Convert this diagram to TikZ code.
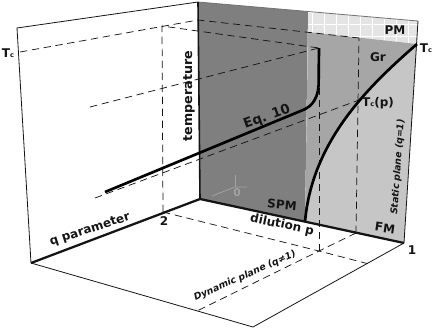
\documentclass[tikz,border=0pt]{standalone}
\usepackage{fontspec}
\setmainfont{DejaVu Sans}
\usetikzlibrary{calc}
\definecolor{ink}{HTML}{141414}
\definecolor{panel}{HTML}{7F7F7F}
\definecolor{glassy}{HTML}{A6A6A6}
\definecolor{ferro}{HTML}{C6C6C6}
\definecolor{para}{HTML}{E4E4E4}
\definecolor{ghost}{HTML}{A2A2A2}
\newcommand{\tcrit}{T{\fontsize{5}{5}\selectfont c}}

\begin{document}
\begin{tikzpicture}[
    x=0.75pt, y=-0.75pt,
    edge/.style={draw=ink, line width=0.6pt},
    axis/.style={draw=ink, line width=1.7pt},
    guide/.style={draw=ink, line width=0.55pt, dash pattern=on 5.5pt off 3.5pt},
    curve/.style={draw=black, line width=2pt},
    lbl/.style={font=\bfseries\fontsize{9}{10}\selectfont, text=ink, inner sep=0pt},
    plane/.style={font=\bfseries\itshape\fontsize{7}{8}\selectfont, text=ink, inner sep=0pt}
]
\useasboundingbox (0,0) rectangle (436,329);

% === Corners of the box ===
\coordinate (front)  at (31,263);
\coordinate (topL)   at (17,28);
\coordinate (topC)   at (198,2);
\coordinate (orig)   at (200,199);
\coordinate (pOne)   at (404,243);
\coordinate (topR)   at (418,21);
\coordinate (frontC) at (253,327);

% percolation boundary and Tc level
\coordinate (pcTop) at (308,11.5);
\coordinate (pcBot) at (305,222);
\coordinate (pcTc)  at (308,32);
\coordinate (tcL)   at (20,52);
\coordinate (tcC)   at (198,20);
\coordinate (tcR)   at (417,44);

% guide points
\coordinate (qTwo)   at (163,212);
\coordinate (qTwoTc) at (162,26);
\coordinate (pMid)   at (356,233);
\coordinate (pMidTc) at (359,38);
\coordinate (tcp)    at (359,100);
\coordinate (tcpEnd) at (95,198);
\coordinate (cross)  at (319,251);
\coordinate (qEnd)   at (369,264);
\coordinate (pEnd)   at (197,311);
\coordinate (dashL)  at (90,107);
\coordinate (eqTop)  at (319,48);
\coordinate (eqStart) at (105,192);
\coordinate (eqBend) at (303,110);

% === Static plane regions ===
\fill[panel] (topC) -- (pcTop) -- (pcBot) -- (orig) -- cycle;
\fill[para] (pcTop) -- (topR) -- (tcR) -- (pcTc) -- cycle;
\begin{scope}
    \clip (pcTop) -- (topR) -- (tcR) -- (pcTc) -- cycle;
    \draw[white, line width=0.4pt, step=9pt] (300,0) grid (420,50);
\end{scope}
\fill[glassy] (pcTc) -- (tcR) .. controls (370,85) and (312,140) .. (pcBot) -- cycle;
\fill[ferro] (tcR) .. controls (370,85) and (312,140) .. (pcBot) -- (pOne) -- cycle;

% faint origin marker
\draw[ghost, line width=0.6pt] (212,196) -- (235,187) -- (247,187);
\draw[ghost, line width=0.6pt] (235,187) -- (235,175);
\node[ghost, font=\bfseries\fontsize{8}{9}\selectfont, inner sep=0pt] (zero) at (237,193) {0};

% === Box edges ===
\draw[edge] (front) -- (topL) -- (topC);
\draw[edge, draw=ink!60] (topC) -- (topR);
\draw[edge] (pOne) -- (topR);
\draw[edge] (front) -- (frontC) -- (pOne);
\draw[ink, line width=1.2pt] (topC) -- (orig);

% === Dashed guides ===
\draw[guide] (tcL) -- (tcC) -- (pMidTc);
\draw[guide] (qTwo) -- (qTwoTc) -- (eqTop);
\draw[guide] (dashL) -- (eqTop);
\draw[guide] (tcpEnd) -- (tcp);
\draw[guide] (pMid) -- (pMidTc);
\draw[guide] (qTwo) -- (cross) -- (qEnd);
\draw[guide] (pMid) -- (cross) -- (pEnd);
\draw[guide] (cross) -- (eqTop);

% === Curves ===
\draw[curve] (tcR) .. controls (370,85) and (312,140) .. (pcBot);
\draw[curve] (eqStart) -- (eqBend) .. controls (313,106) and (318,97) .. (318.6,85) -- (eqTop);

% === Axes ===
\draw[axis] (front) -- (orig) -- (pOne);

% === Labels ===
\node[lbl] (tcLeft) at (8,53) {\tcrit};
\node[lbl, font=\bfseries\fontsize{9.5}{10}\selectfont, rotate=90] (tempLbl) at (189,96) {temperature};
\node[lbl, font=\bfseries\fontsize{10}{11}\selectfont, rotate=20] (eqLbl) at (267,117) {Eq. 10};
\node[lbl] (pmLbl) at (395,30) {PM};
\node[lbl] (grLbl) at (378,57) {Gr};
\node[lbl] (tcRight) at (426,48) {\tcrit};
\node[lbl] (tcpLbl) at (378,103) {\tcrit(p)};
\node[plane, rotate=86] (staticLbl) at (398,167) {Static plane (q=1)};
\node[lbl, rotate=-6] (spmLbl) at (282,205) {SPM};
\node[lbl, rotate=-12] (pLbl) at (282,225) {dilution p};
\node[lbl, rotate=-8] (fmLbl) at (385,228) {FM};
\node[lbl] (oneLbl) at (412,250) {1};
\node[lbl] (twoLbl) at (164,221) {2};
\node[lbl, rotate=18] (qLbl) at (90,230) {q parameter};
\node[plane, rotate=24] (dynLbl) at (245,276) {Dynamic plane (q≠1)};

\end{tikzpicture}
\end{document}
